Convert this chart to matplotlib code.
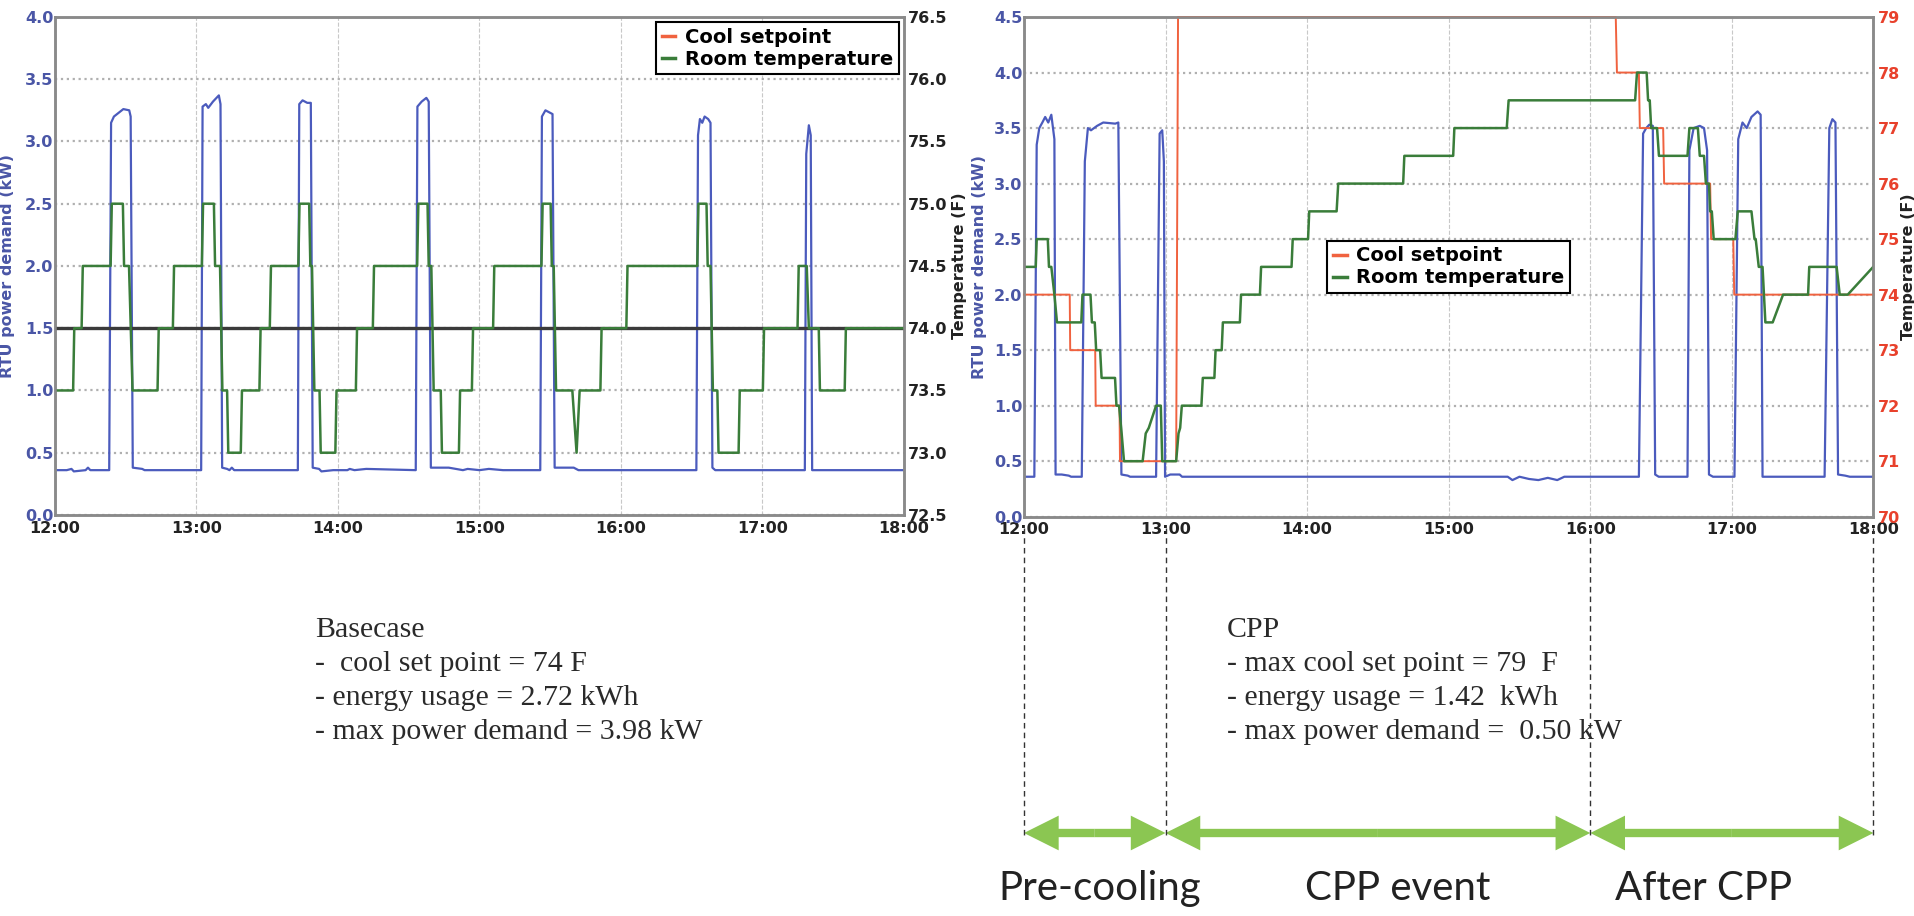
import numpy as np
import matplotlib
matplotlib.use('Agg')
import matplotlib.pyplot as plt
import matplotlib.dates as mdates
import matplotlib.transforms as mtransforms
from matplotlib.lines import Line2D
from matplotlib.patches import FancyArrowPatch, ArrowStyle

# ---- data: (minutes after 12:00, value) ----
base_kw = [(0, 0.36), (5, 0.36), (7, 0.37), (8, 0.35), (13, 0.36), (14, 0.38), (15, 0.36),
           (23.0, 0.36), (23.8, 3.15), (25, 3.2), (27, 3.23), (29, 3.26), (31.5, 3.25), (32.1, 3.2),
           (33.0, 0.38), (37, 0.37), (38, 0.36), (62.0, 0.36), (62.6, 3.28), (64, 3.30), (65, 3.27),
           (67, 3.32), (69.5, 3.37), (70.2, 3.3), (70.9, 0.38), (73, 0.37), (74, 0.36), (75, 0.38),
           (76, 0.36), (103.0, 0.36), (103.6, 3.3), (105, 3.33), (107, 3.31), (108.5, 3.31),
           (109.3, 0.38), (112, 0.37), (113, 0.35), (118, 0.36), (124, 0.36), (125, 0.37), (127, 0.36),
           (132, 0.37), (153.0, 0.36), (153.7, 3.28), (155.5, 3.32), (157.5, 3.35), (158.5, 3.32),
           (159.4, 0.38), (167, 0.38), (170, 0.37), (173, 0.36), (175, 0.37), (180, 0.36), (184, 0.37),
           (190, 0.36), (205.8, 0.36), (206.5, 3.2), (208, 3.25), (210, 3.23), (211, 3.22),
           (211.9, 0.38), (220, 0.38), (222, 0.36), (272.0, 0.36), (272.7, 3.05), (273.5, 3.18),
           (274.5, 3.15), (275.5, 3.2), (277, 3.18), (278, 3.15), (278.8, 0.38), (280, 0.36),
           (318.0, 0.36), (318.6, 2.9), (319.7, 3.13), (320.5, 3.05), (321.1, 0.36), (360, 0.36)]

base_temp = [(0, 73.5), (7.7, 73.5), (8.2, 74.0), (11.3, 74.0), (11.8, 74.5), (23.6, 74.5), (24.1, 75.0),
             (28.8, 75.0), (29.3, 74.5), (31.4, 74.5), (32.9, 73.5), (43.5, 73.5), (44.0, 74.0),
             (50.0, 74.0), (50.5, 74.5), (62.3, 74.5), (62.8, 75.0), (67.4, 75.0), (67.9, 74.5),
             (70.0, 74.5), (71.0, 73.5), (73.0, 73.5), (73.5, 73.0), (78.8, 73.0), (79.3, 73.5),
             (86.7, 73.5), (87.2, 74.0), (91.1, 74.0), (91.6, 74.5), (103.2, 74.5), (103.7, 75.0),
             (107.8, 75.0), (108.3, 74.5), (109.0, 74.5), (110.0, 73.5), (112.2, 73.5), (112.7, 73.0),
             (118.9, 73.0), (119.4, 73.5), (127.6, 73.5), (128.1, 74.0), (134.8, 74.0), (135.3, 74.5),
             (153.6, 74.5), (154.1, 75.0), (158.0, 75.0), (158.5, 74.5), (159.6, 74.5), (160.6, 73.5),
             (163.6, 73.5), (164.1, 73.0), (171.3, 73.0), (171.8, 73.5), (176.8, 73.5), (177.3, 74.0),
             (185.8, 74.0), (186.3, 74.5), (206.3, 74.5), (206.8, 75.0), (210.2, 75.0), (210.7, 74.5),
             (211.5, 74.5), (212.5, 73.5), (219.4, 73.5), (221.2, 73.0), (222.5, 73.5), (231.3, 73.5),
             (231.8, 74.0), (242.3, 74.0), (242.8, 74.5), (272.4, 74.5), (272.9, 75.0), (276.3, 75.0),
             (276.8, 74.5), (278.0, 74.5), (279.0, 73.5), (280.9, 73.5), (281.4, 73.0), (289.9, 73.0),
             (290.4, 73.5), (300.2, 73.5), (300.7, 74.0), (314.9, 74.0), (315.4, 74.5), (318.8, 74.5),
             (319.7, 74.0), (323.9, 74.0), (324.4, 73.5), (334.9, 73.5), (335.4, 74.0), (360, 74.0)]

base_setpoint = [(0, 74.0), (360, 74.0)]

cpp_kw = [(0, 0.36), (4.4, 0.36), (5.4, 3.35), (6.5, 3.5), (7.8, 3.55), (9.0, 3.6), (10.3, 3.55),
          (11.6, 3.62), (12.9, 3.4), (13.4, 0.38), (16, 0.38), (19, 0.37), (20, 0.36), (24.5, 0.36),
          (25.8, 3.2), (27.1, 3.5), (28.4, 3.48), (31.0, 3.52), (33.6, 3.55), (38.7, 3.54), (40.0, 3.55),
          (41.3, 0.38), (44, 0.37), (45, 0.36), (56.0, 0.36), (57.5, 3.45), (58.6, 3.48), (59.3, 3.2),
          (59.8, 0.36), (62, 0.38), (66, 0.38), (67, 0.36), (205, 0.36), (207, 0.33), (210, 0.36),
          (214, 0.34), (218, 0.33), (222, 0.35), (226, 0.33), (229, 0.36), (260.6, 0.36), (261.4, 1.7),
          (262.4, 3.45), (263.7, 3.5), (265, 3.53), (266.5, 3.52), (267.5, 0.38), (269, 0.36),
          (281.2, 0.36), (282.0, 3.3), (283.8, 3.5), (286.4, 3.52), (288.2, 3.5), (289.5, 3.3),
          (290.3, 0.38), (292, 0.36), (301.1, 0.36), (302.7, 3.4), (304.5, 3.55), (306.3, 3.5),
          (308.3, 3.6), (310.9, 3.65), (312.2, 3.62), (313.0, 0.36), (339.3, 0.36), (341.3, 3.5),
          (342.6, 3.58), (343.9, 3.55), (345, 0.38), (348, 0.37), (350, 0.36), (360, 0.36)]

cpp_temp = [(0, 74.5), (5.0, 74.5), (5.4, 75.0), (10.1, 75.0), (10.6, 74.5), (11.6, 74.5), (12.9, 74.0),
            (14.0, 73.5), (24.3, 73.5), (24.8, 74.0), (28.2, 74.0), (28.8, 73.5), (30.0, 73.5),
            (30.6, 73.0), (32.3, 73.0), (32.9, 72.5), (38.6, 72.5), (39.2, 72.0), (40.3, 72.0),
            (41.4, 71.5), (42.4, 71.0), (50.3, 71.0), (51.6, 71.5), (52.9, 71.6), (56.0, 72.0),
            (58.0, 72.0), (58.6, 71.0), (64.5, 71.0), (65.5, 71.5), (66.2, 71.6), (66.9, 72.0),
            (75.2, 72.0), (75.8, 72.5), (80.7, 72.5), (81.2, 73.0), (83.8, 73.0), (84.3, 73.5),
            (91.5, 73.5), (92.0, 74.0), (100.0, 74.0), (100.5, 74.5), (113.4, 74.5), (113.9, 75.0),
            (120.4, 75.0), (120.9, 75.5), (132.5, 75.5), (133.2, 76.0), (160.7, 76.0), (161.2, 76.5),
            (181.9, 76.5), (182.4, 77.0), (204.6, 77.0), (205.4, 77.5), (259.0, 77.5), (259.8, 78.0),
            (263.9, 78.0), (264.5, 77.5), (265.2, 77.5), (265.8, 77.0), (268.3, 77.0), (269.1, 76.5),
            (281.2, 76.5), (282.0, 77.0), (285.6, 77.0), (286.4, 76.5), (288.2, 76.5), (289.0, 76.0),
            (290.3, 76.0), (290.8, 75.5), (291.5, 75.5), (292.3, 75.0), (301.5, 75.0), (302.5, 75.5),
            (308.3, 75.5), (309.6, 75.0), (310.1, 75.0), (311.4, 74.5), (313.0, 74.5), (314.2, 73.5),
            (317.3, 73.5), (321.7, 74.0), (332.3, 74.0), (332.8, 74.5), (344.4, 74.5), (345.7, 74.0),
            (349.1, 74.0), (359.9, 74.5)]

cpp_setpoint = [(0, 74), (19.4, 74), (19.6, 73), (30.2, 73), (30.4, 72), (40.5, 72), (40.7, 71),
                (64.5, 71), (65.3, 79), (250.8, 79), (251.3, 78), (260.6, 78), (261.0, 77), (270.9, 77),
                (271.3, 76), (290.8, 76), (291.2, 75), (300.6, 75), (301.0, 74), (360, 74)]

legend_labels = ['Cool setpoint', 'Room temperature']

base_notes = ['Basecase', '-  cool set point = 74 F', '- energy usage = 2.72 kWh',
              '- max power demand = 3.98 kW']
cpp_notes = ['CPP', '- max cool set point = 79  F', '- energy usage = 1.42  kWh',
             '- max power demand =  0.50 kW']

phase_edges = [0, 60, 240, 360]
phase_names = ['Pre-cooling', 'CPP event', 'After CPP']

BLUE = '#4b5bbd'
RED = '#f0623f'
GREEN = '#3a7d3a'
DARK = '#3a3a3a'

day = np.datetime64('2015-07-01T12:00')


def clock(mins):
    return day + (np.asarray(mins, dtype=float) * 60).astype('timedelta64[s]')


def unpack(pairs):
    t, v = zip(*pairs)
    return clock(t), np.array(v)


fig = plt.figure(figsize=(19.15, 9.16), dpi=100)
ax1 = fig.add_axes([0.0287, 0.4378, 0.4433, 0.5437])
ax2 = fig.add_axes([0.5347, 0.4359, 0.4436, 0.5455])

tick_font = {'size': 11.5, 'weight': 'bold'}


def style(ax, kw_max, temp_lim, temp_step, temp_color):
    ax.set_xlim(clock(0), clock(360))
    ax.set_ylim(0, kw_max)
    ax.set_yticks(np.arange(0, kw_max + 0.01, 0.5))
    ax.set_yticklabels(['%.1f' % v for v in np.arange(0, kw_max + 0.01, 0.5)], fontdict=tick_font,
                       color='#4a56a6')
    ax.xaxis.set_major_locator(mdates.HourLocator())
    ax.xaxis.set_major_formatter(mdates.DateFormatter('%H:%M'))
    for lab in ax.get_xticklabels():
        lab.set_fontsize(11.5)
        lab.set_fontweight('bold')
        lab.set_color('#222222')
    ax.tick_params(axis='both', length=0)
    ax.tick_params(axis='y', pad=1)
    ax.tick_params(axis='x', pad=4)
    ax.grid(axis='x', ls='--', color='#c8c8c8', lw=0.8)
    ax.grid(axis='y', ls=':', color='#b0b0b0', lw=1.6)
    ax.set_ylabel('RTU power demand (kW)', color='#4a56a6', fontsize=11.5, fontweight='bold')

    axt = ax.twinx()
    axt.set_ylim(*temp_lim)
    ticks = np.arange(temp_lim[0], temp_lim[1] + 0.01, temp_step)
    axt.set_yticks(ticks)
    fmt = '%.1f' if temp_step < 1 else '%d'
    axt.set_yticklabels([fmt % v for v in ticks], fontdict=tick_font, color=temp_color)
    axt.tick_params(axis='y', length=0, pad=3)
    axt.set_ylabel('Temperature (F)', color='#222222', fontsize=11.5, fontweight='bold')
    for a in (ax, axt):
        for s in a.spines.values():
            s.set_color('#8a8a8a')
            s.set_linewidth(1.8)
    return axt


def make_legend(axt, loc):
    handles = [Line2D([], [], color=RED, lw=2.5), Line2D([], [], color=GREEN, lw=2.5)]
    leg = axt.legend(handles, legend_labels, loc=loc, prop={'weight': 'bold', 'size': 14},
                     fancybox=False, edgecolor='black', framealpha=1, handlelength=0.7,
                     borderpad=0.3, labelspacing=0.15, handletextpad=0.5, borderaxespad=0.25)
    leg.get_frame().set_linewidth(1.5)


# ---- left: base case ----
t1 = style(ax1, 4.0, (72.5, 76.5), 0.5, '#222222')
x, y = unpack(base_kw)
ax1.plot(x, y, color=BLUE, lw=1.6)
x, y = unpack(base_setpoint)
t1.plot(x, y, color=DARK, lw=2.4)
x, y = unpack(base_temp)
t1.plot(x, y, color=GREEN, lw=1.8)
make_legend(t1, 'upper right')
ax1.yaxis.set_label_coords(-0.047, 0.5)
t1.yaxis.set_label_coords(1.0565, 0.5)

# ---- right: CPP ----
t2 = style(ax2, 4.5, (70, 79), 1, '#e8412c')
x, y = unpack(cpp_kw)
ax2.plot(x, y, color=BLUE, lw=1.6)
x, y = unpack(cpp_setpoint)
t2.plot(x, y, color=RED, lw=1.4, clip_on=False)
x, y = unpack(cpp_temp)
t2.plot(x, y, color=GREEN, lw=1.8)
make_legend(t2, 'center')
ax2.yaxis.set_label_coords(-0.0436, 0.5)
t2.yaxis.set_label_coords(1.0325, 0.5)

# ---- notes ----
for i, line in enumerate(base_notes):
    fig.text(0.1645, 1 - (637 + 34 * i) / 916, line, family='Liberation Serif', fontsize=21.5,
             color='#2a2a2a', va='baseline')
for i, line in enumerate(cpp_notes):
    fig.text(0.6407, 1 - (637 + 34 * i) / 916, line, family='Liberation Serif', fontsize=21.5,
             color='#2a2a2a', va='baseline')

# ---- phase markers under the CPP chart ----
trans = mtransforms.blended_transform_factory(ax2.transData, fig.transFigure)
edges = mdates.date2num(clock(phase_edges))
for e in edges:
    fig.add_artist(Line2D([e, e], [0.4236, 0.0873], transform=trans, color='#333333', lw=1,
                          ls=(0, (4, 3))))
arrow_y = 1 - 833 / 916
style_simple = ArrowStyle.Simple(head_length=25, head_width=25, tail_width=6)
for a, b in zip(edges[:-1], edges[1:]):
    mid = (a + b) / 2
    for end in (a, b):
        fig.add_artist(FancyArrowPatch((mid, arrow_y), (end, arrow_y), transform=trans,
                                       arrowstyle=style_simple, mutation_scale=1, lw=0,
                                       color='#8bc652', shrinkA=0, shrinkB=0))

for name, xc in zip(phase_names, [0.5744, 0.730, 0.8898]):
    fig.text(xc, 1 - 900 / 916, name, family='Lato', fontsize=29, color='#222222',
             ha='center', va='baseline')

fig.savefig('out.png', dpi=100)
